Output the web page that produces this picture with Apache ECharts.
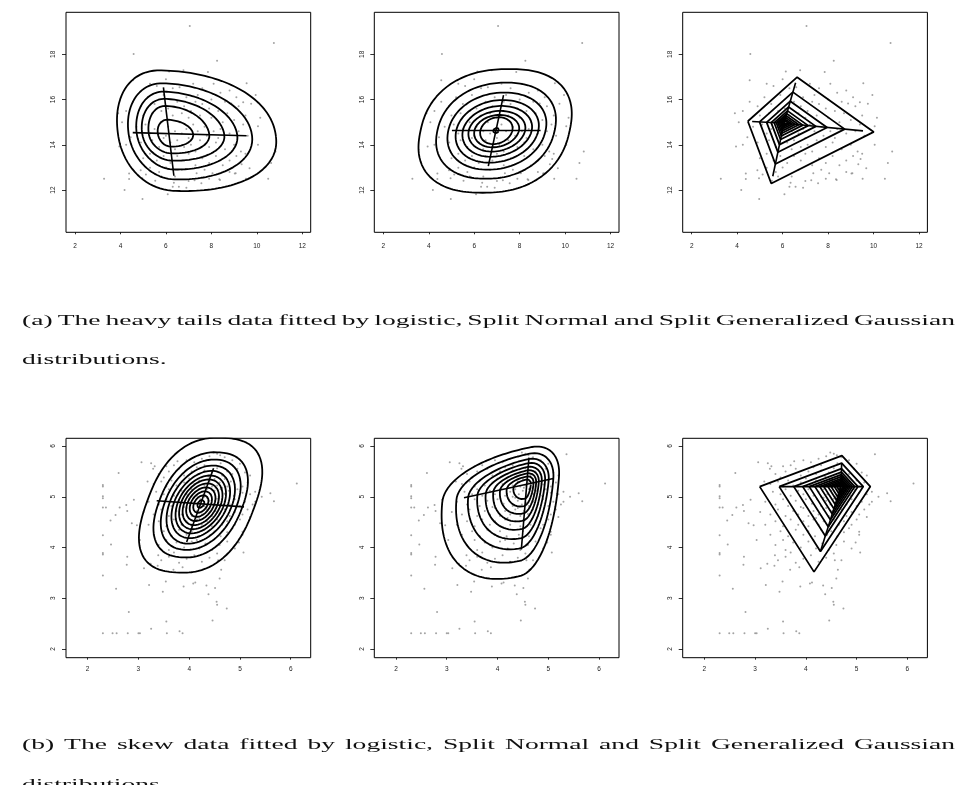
<!DOCTYPE html>
<html>
<head>
<meta charset="utf-8">
<script src="https://cdn.jsdelivr.net/npm/echarts@6/dist/echarts.min.js"></script>
<style>
  html, body { margin: 0; padding: 0; background: #fff; }
  #chart { width: 969px; height: 785px; }
</style>
</head>
<body>
<div id="chart"></div>
<script>
// 刻度
const topXTicks = [2, 4, 6, 8, 10, 12]
const topYTicks = [12, 14, 16, 18]
const botXTicks = [2, 3, 4, 5, 6]
const botYTicks = [2, 3, 4, 5, 6]

// (a) heavy tails 数据点
const heavyPoints = [
  [7.05, 19.25], [10.75, 18.5], [4.58, 18.02], [8.25, 17.72], [6.77, 17.3], [7.85, 17.22], [6.14, 17.24], [4.55, 16.85],
  [9.55, 16.72], [9.95, 16.2], [9.75, 15.82], [9.4, 15.88], [10.15, 15.2], [10.05, 14.82], [10.05, 14.0], [10.82, 13.7],
  [10.63, 13.2], [10.5, 12.5], [9.52, 12.5], [9.03, 12.73], [8.35, 12.48], [8.05, 12.74], [3.28, 12.5], [4.18, 12.0],
  [4.97, 11.6], [6.08, 11.81], [4.38, 12.73], [4.38, 12.49], [3.95, 13.93], [4.25, 14.0], [4.45, 14.33], [3.9, 15.4],
  [4.07, 15.0], [4.25, 15.5], [4.55, 15.9], [8.88, 15.83],
  [4.89, 12.87], [5.12, 12.69], [5.3, 12.99], [4.96, 12.52], [5.53, 12.41], [6.3, 12.15], [6.57, 12.15], [6.35, 12.32],
  [7.35, 12.74], [7.56, 12.3], [7.26, 12.43], [8.38, 12.44], [9.33, 13.14], [9.43, 13.37], [9.68, 12.96], [9.07, 12.74],
  [5.6, 16.6], [6.3, 16.5], [6.6, 16.55], [7.2, 16.7], [7.6, 16.5], [8.4, 16.3], [8.8, 16.4], [5.2, 16.1], [5.9, 16.2],
  [6.9, 16.1], [7.4, 16.2], [8.0, 16.0], [8.6, 15.9], [9.1, 16.1], [8.1, 16.7], [6.0, 16.9], [5.3, 16.7],
  [4.9, 15.7], [5.5, 15.8], [6.1, 15.6], [6.5, 15.9], [6.8, 15.7], [7.1, 15.5], [7.6, 15.8], [7.9, 15.6], [8.3, 15.5],
  [8.7, 15.4], [9.2, 15.7], [9.5, 15.3], [5.8, 15.5], [7.3, 15.9], [5.0, 15.3], [5.4, 15.4], [6.3, 15.3], [6.7, 15.4],
  [7.0, 15.2], [7.5, 15.3], [8.0, 15.2], [8.5, 15.0], [9.0, 15.1], [9.4, 14.9],
  [4.7, 14.8], [5.1, 14.9], [5.5, 14.7], [5.8, 15.0], [6.1, 14.8], [6.4, 14.6], [6.6, 15.0], [6.9, 14.7], [7.2, 14.9],
  [7.4, 14.6], [7.7, 14.8], [8.1, 14.6], [8.4, 14.7], [8.8, 14.5], [9.2, 14.6], [9.6, 14.4], [5.3, 14.5], [6.0, 14.4],
  [6.7, 14.5], [7.0, 14.3], [7.8, 14.4], [8.3, 14.3],
  [4.9, 14.1], [5.4, 14.2], [5.7, 13.9], [6.2, 14.1], [6.5, 14.2], [6.8, 13.9], [7.1, 14.0], [7.5, 14.2], [7.9, 13.9],
  [8.2, 14.1], [8.6, 13.8], [9.0, 14.0], [9.3, 13.7], [5.9, 14.3], [6.4, 13.8], [7.3, 13.7],
  [5.0, 13.4], [5.3, 13.6], [5.6, 13.3], [5.9, 13.5], [6.2, 13.2], [6.5, 13.5], [6.8, 13.3], [7.0, 13.6], [7.3, 13.1],
  [7.6, 13.4], [7.9, 13.2], [8.2, 13.5], [8.5, 13.1], [8.8, 13.3], [9.1, 13.5], [9.5, 13.6], [6.0, 13.0], [6.7, 12.9],
  [7.7, 12.9], [8.8, 12.8], [5.7, 12.8], [6.4, 12.6], [7.0, 12.4], [6.9, 12.1], [5.8, 12.6], [7.9, 12.5]
]

// (b) skew 数据点
const skewPoints = [
  [2.3, 5.23], [2.3, 5.2], [2.3, 5.01], [2.3, 4.97], [2.3, 4.79], [2.3, 4.24], [2.3, 3.89], [2.3, 3.86], [2.3, 3.45],
  [2.3, 2.31], [2.36, 4.79], [2.45, 4.53], [2.55, 4.64], [2.61, 5.47], [2.63, 4.79], [2.46, 4.06], [2.56, 3.19],
  [2.49, 2.31], [2.57, 2.31], [2.79, 2.31], [3.0, 2.31], [3.03, 2.31], [3.56, 2.31], [3.81, 2.35], [3.87, 2.31],
  [2.81, 2.73], [2.78, 3.82], [2.77, 3.66], [2.76, 4.84], [2.78, 4.72], [2.87, 4.48], [2.91, 4.94], [3.06, 5.68],
  [3.25, 5.66], [3.32, 5.6], [3.29, 5.55], [3.18, 5.3], [3.21, 3.26], [3.25, 2.4], [3.54, 3.33], [3.55, 2.54],
  [3.48, 3.13], [3.11, 3.59], [3.24, 3.68], [2.97, 4.44], [3.03, 4.15], [3.39, 3.85], [3.38, 3.64], [3.69, 3.56],
  [3.87, 3.61], [3.89, 3.23], [4.08, 3.29], [4.12, 3.31], [4.34, 3.25], [4.38, 3.08], [4.51, 3.2], [4.54, 2.93],
  [4.55, 2.87], [4.74, 2.8], [4.46, 2.56], [4.6, 3.39], [4.63, 3.56], [4.57, 3.75], [5.07, 3.9], [5.36, 5.84],
  [5.43, 5.0], [5.6, 5.07], [5.67, 4.91], [6.12, 5.26], [4.61, 5.82], [4.48, 5.87], [3.77, 5.7], [5.05, 4.31],
  [4.98, 4.1], [5.2, 4.6], [5.3, 4.9],
  [3.95, 5.72], [4.1, 5.68], [4.25, 5.75], [4.4, 5.8], [4.55, 5.85], [4.7, 5.78], [4.85, 5.72], [5.0, 5.65], [4.3, 5.62],
  [4.62, 5.66], [3.7, 5.62], [3.55, 5.6],
  [3.4, 5.45], [3.6, 5.5], [3.8, 5.55], [3.9, 5.42], [4.05, 5.5], [4.2, 5.45], [4.3, 5.52], [4.45, 5.48], [4.55, 5.56],
  [4.65, 5.42], [4.75, 5.5], [4.85, 5.45], [4.95, 5.55], [5.1, 5.48], [5.2, 5.42], [4.38, 5.4], [4.15, 5.58], [3.5, 5.38],
  [3.3, 5.25], [3.45, 5.3], [3.65, 5.32], [3.75, 5.22], [3.9, 5.28], [4.0, 5.36], [4.1, 5.25], [4.2, 5.32], [4.3, 5.22],
  [4.4, 5.3], [4.5, 5.35], [4.55, 5.22], [4.6, 5.28], [4.7, 5.35], [4.75, 5.2], [4.82, 5.3], [4.9, 5.24], [5.0, 5.32],
  [5.05, 5.2], [5.15, 5.28], [4.45, 5.2], [4.65, 5.18], [3.55, 5.2],
  [3.35, 5.1], [3.5, 5.05], [3.6, 5.15], [3.7, 5.02], [3.85, 5.12], [3.95, 5.05], [4.05, 5.15], [4.15, 5.02], [4.25, 5.1],
  [4.35, 5.15], [4.42, 5.05], [4.5, 5.12], [4.58, 5.0], [4.62, 5.15], [4.7, 5.06], [4.78, 5.12], [4.88, 5.02], [4.95, 5.15],
  [5.05, 5.08], [5.2, 5.05], [5.3, 5.1], [4.52, 5.18], [4.3, 5.0],
  [3.2, 4.9], [3.4, 4.85], [3.55, 4.95], [3.65, 4.82], [3.8, 4.92], [3.9, 4.8], [4.0, 4.95], [4.12, 4.86], [4.22, 4.95],
  [4.3, 4.82], [4.4, 4.92], [4.48, 4.85], [4.55, 4.96], [4.62, 4.82], [4.7, 4.9], [4.8, 4.85], [4.9, 4.95], [5.0, 4.82],
  [5.1, 4.9], [5.25, 4.85], [4.35, 4.98], [4.58, 4.88],
  [3.1, 4.7], [3.3, 4.65], [3.45, 4.75], [3.6, 4.62], [3.75, 4.72], [3.85, 4.65], [3.95, 4.78], [4.05, 4.62], [4.15, 4.72],
  [4.25, 4.65], [4.35, 4.75], [4.45, 4.62], [4.52, 4.72], [4.6, 4.66], [4.7, 4.75], [4.8, 4.62], [4.9, 4.7], [5.05, 4.65],
  [5.15, 4.75], [4.4, 4.78],
  [3.2, 4.45], [3.4, 4.52], [3.55, 4.42], [3.7, 4.55], [3.85, 4.45], [3.95, 4.52], [4.05, 4.42], [4.15, 4.55], [4.25, 4.45],
  [4.35, 4.52], [4.45, 4.42], [4.55, 4.55], [4.65, 4.45], [4.75, 4.52], [4.9, 4.45], [5.0, 4.55], [4.2, 4.58],
  [3.3, 4.25], [3.5, 4.32], [3.65, 4.22], [3.8, 4.35], [3.95, 4.25], [4.05, 4.32], [4.18, 4.22], [4.3, 4.35], [4.42, 4.25],
  [4.5, 4.32], [4.62, 4.22], [4.75, 4.3], [4.85, 4.38], [5.05, 4.25],
  [3.4, 4.05], [3.6, 3.95], [3.75, 4.1], [3.9, 4.0], [4.05, 4.12], [4.2, 3.98], [4.32, 4.08], [4.45, 3.95], [4.6, 4.05],
  [4.75, 4.12], [4.9, 3.98], [3.55, 4.15], [4.15, 4.15],
  [3.45, 3.75], [3.6, 3.82], [3.8, 3.7], [3.95, 3.78], [4.1, 3.85], [4.25, 3.72], [4.4, 3.8], [4.55, 3.88], [4.7, 3.75],
  [3.7, 3.9]
]

// 等高线：中心、剪切 [k1, k2]、每层 [左, 右, 上, 下, 指数]
const logisticTopCenter = [6.13, 14.5]
const logisticTopShear = [-0.028, -0.118]
const logisticTopLevels = [
  [2.25, 4.71, 2.79, 2.54, 2.15], [1.78, 3.66, 2.22, 2.03, 2.05], [1.42, 3.01, 1.85, 1.59, 2],
  [1.18, 2.44, 1.53, 1.2, 2], [0.89, 1.78, 1.22, 0.88, 2], [0.49, 1.07, 0.61, 0.58, 2]
]
const logisticTopAxes = [[[4.54, 14.54], [9.55, 14.4]], [[5.89, 16.54], [6.35, 12.63]]]

const snTopCenter = [6.96, 14.63]
const snTopShear = [0, 0.213]
const snTopLevels = [
  [3.32, 3.24, 2.72, 2.75, 2.35], [2.58, 2.58, 2.12, 2.13, 2.2], [2.1, 2.18, 1.68, 1.73, 2.1],
  [1.75, 1.86, 1.35, 1.42, 2.05], [1.46, 1.57, 1.09, 1.16, 2], [1.2, 1.28, 0.87, 0.93, 2],
  [0.95, 1.01, 0.69, 0.74, 2], [0.69, 0.72, 0.59, 0.6, 2], [0.12, 0.12, 0.12, 0.12, 2]
]
const snTopAxes = [[[5.02, 14.63], [8.92, 14.63]], [[6.62, 13.06], [7.29, 16.2]]]

// 多边形：中心、外层顶点偏移（左、上、右、下）、各层比例
const sggTopCenter = [6.06, 14.95]
const sggTopOuter = [[-1.59, 0.09], [0.58, 2.04], [3.95, -0.38], [-0.56, -2.66]]
const sggTopScales = [1, 0.676, 0.48, 0.355, 0.27, 0.21, 0.165, 0.125, 0.09, 0.06, 0.035]
const sggTopRay = 0.88

const logisticBotCenter = [4.23, 4.86]
const logisticBotShear = [-0.07, 0.366]
const logisticBotBase = [1.05, 1.05, 1.3, 1.35]
const logisticBotScales = [1, 0.78, 0.67, 0.58, 0.5, 0.43, 0.37, 0.31, 0.25, 0.19, 0.13, 0.06]
const logisticBotPowers = [2.5, 2.3, 2.15, 2.05, 2, 2, 2, 2, 2, 2, 2, 2]
const logisticBotAxes = [[[3.36, 4.92], [5.08, 4.8]], [[3.95, 4.11], [4.48, 5.56]]]

const snBotCenter = [4.56, 5.23]
const snBotShear = [0.216, 0.083]
const snBotBase = [1.65, 0.65, 0.74, 1.8]
const snBotScales = [1, 0.83, 0.69, 0.58, 0.48, 0.39, 0.31, 0.23, 0.15]
const snBotPowers = [2.2, 2.1, 2, 2, 2, 2, 2, 2, 2]
const snBotAxes = [[[3.34, 4.98], [5.1, 5.36]], [[4.47, 3.96], [4.62, 5.77]]]

const sggBotCenter = [4.69, 5.2]
const sggBotOuter = [[-1.6, 0], [0.02, 0.61], [0.58, 0], [-0.53, -1.68]]
const sggBotScales = [1, 0.76, 0.58, 0.47, 0.39, 0.32, 0.26, 0.21, 0.16, 0.12, 0.08, 0.05]
const sggBotRay = 0.75

// 图注
const capA1 = '(a) The heavy tails data fitted by logistic, Split Normal and Split Generalized Gaussian'
const capA2 = 'distributions.'
const capB1 = '(b) The skew data fitted by logistic, Split Normal and Split Generalized Gaussian'
const capB2 = 'distributions.'

// ---- 布局 ----
const gridLefts = [66, 374.3, 682.7]
const gridWidth = 244.7
const rows = [
  { top: 12.3, height: 220, x: [1.604, 12.37], y: [10.13, 19.86], xt: topXTicks, yt: topYTicks, pts: heavyPoints, lm: 10 },
  { top: 438.3, height: 219.4, x: [1.573, 6.394], y: [1.829, 6.152], xt: botXTicks, yt: botYTicks, pts: skewPoints, lm: 8 }
]

function contourPath(center, shear, r, p) {
  const pts = []
  const n = 180
  for (let i = 0; i <= n; i++) {
    const t = (2 * Math.PI * i) / n
    const c = Math.cos(t)
    const s = Math.sin(t)
    const u = (c >= 0 ? r[1] : r[0]) * Math.sign(c) * Math.pow(Math.abs(c), 2 / p)
    const v = (s >= 0 ? r[2] : r[3]) * Math.sign(s) * Math.pow(Math.abs(s), 2 / p)
    pts.push([center[0] + u + shear[1] * v, center[1] + v + shear[0] * u])
  }
  return pts
}

function polygonPath(center, outer, k) {
  const pts = outer.map(d => [center[0] + k * d[0], center[1] + k * d[1]])
  pts.push(pts[0])
  return pts
}

function lineSeries(idx, data, width) {
  return {
    type: 'line', xAxisIndex: idx, yAxisIndex: idx, data,
    symbol: 'none', showSymbol: false, silent: true, z: 3,
    lineStyle: { color: '#000', width }
  }
}

const grids = []
const xAxes = []
const yAxes = []
const series = []
const labelFont = 'Liberation Sans'

rows.forEach((row, r) => {
  gridLefts.forEach((left, c) => {
    const idx = r * 3 + c
    grids.push({ left, top: row.top, width: gridWidth, height: row.height, show: true, borderColor: '#000', borderWidth: 1 })
    xAxes.push({
      type: 'value', gridIndex: idx, min: row.x[0], max: row.x[1],
      axisLine: { show: false }, splitLine: { show: false },
      axisTick: { show: true, length: 2, customValues: row.xt, lineStyle: { color: '#000', width: 0.8 } },
      axisLabel: { customValues: row.xt, fontSize: 6.5, margin: row.lm, color: '#222', fontFamily: labelFont }
    })
    yAxes.push({
      type: 'value', gridIndex: idx, min: row.y[0], max: row.y[1],
      axisLine: { show: false }, splitLine: { show: false },
      axisTick: { show: true, length: 4, customValues: row.yt, lineStyle: { color: '#000', width: 0.8 } },
      axisLabel: { customValues: row.yt, fontSize: 6.5, margin: 9, rotate: 90, color: '#222', fontFamily: labelFont }
    })
    series.push({
      type: 'scatter', xAxisIndex: idx, yAxisIndex: idx, data: row.pts,
      symbolSize: 2, silent: true, z: 2, itemStyle: { color: '#8c8c8c' }
    })
  })
})

// 第一行
logisticTopLevels.forEach(l => series.push(lineSeries(0, contourPath(logisticTopCenter, logisticTopShear, l, l[4]), 1.8)))
logisticTopAxes.forEach(a => series.push(lineSeries(0, a, 1.6)))
snTopLevels.forEach(l => series.push(lineSeries(1, contourPath(snTopCenter, snTopShear, l, l[4]), 1.8)))
snTopAxes.forEach(a => series.push(lineSeries(1, a, 1.6)))
sggTopScales.forEach(k => series.push(lineSeries(2, polygonPath(sggTopCenter, sggTopOuter, k), 1.8)))
sggTopOuter.forEach(d => series.push(lineSeries(2, [sggTopCenter, [sggTopCenter[0] + sggTopRay * d[0], sggTopCenter[1] + sggTopRay * d[1]]], 1.6)))

// 第二行
logisticBotScales.forEach((k, i) => series.push(lineSeries(3, contourPath(logisticBotCenter, logisticBotShear, logisticBotBase.map(v => v * k), logisticBotPowers[i]), 1.8)))
logisticBotAxes.forEach(a => series.push(lineSeries(3, a, 1.6)))
snBotScales.forEach((k, i) => series.push(lineSeries(4, contourPath(snBotCenter, snBotShear, snBotBase.map(v => v * k), snBotPowers[i]), 1.8)))
snBotAxes.forEach(a => series.push(lineSeries(4, a, 1.6)))
sggBotScales.forEach(k => series.push(lineSeries(5, polygonPath(sggBotCenter, sggBotOuter, k), 1.8)))
sggBotOuter.forEach(d => series.push(lineSeries(5, [sggBotCenter, [sggBotCenter[0] + sggBotRay * d[0], sggBotCenter[1] + sggBotRay * d[1]]], 1.6)))

// ---- 图注：逐词两端对齐 ----
const captionFont = '15.5px "Liberation Serif"'
const ctx = document.createElement('canvas').getContext('2d')
ctx.font = captionFont
const glyphScale = 144.7 / ctx.measureText('distributions.').width
const textLeft = 22
const textRight = 955

function captionLine(text, baseline, justify) {
  const words = text.split(' ')
  const widths = words.map(w => ctx.measureText(w).width * glyphScale)
  const total = widths.reduce((a, b) => a + b, 0)
  const gap = justify ? (textRight - textLeft - total) / (words.length - 1) : ctx.measureText(' ').width * glyphScale
  let x = textLeft
  return words.map((w, i) => {
    const el = {
      type: 'text', x, y: baseline - 2, scaleX: glyphScale, silent: true,
      style: { text: w, font: captionFont, fill: '#111', align: 'left', verticalAlign: 'middle', textAlign: 'left', textVerticalAlign: 'middle' }
    }
    x += widths[i] + gap
    return el
  })
}

const graphics = [].concat(
  captionLine(capA1, 322.7, true),
  captionLine(capA2, 362.3, false),
  captionLine(capB1, 747.3, true),
  captionLine(capB2, 787, false)
)

const chart = echarts.init(document.getElementById('chart'), null, { renderer: 'canvas' })
chart.setOption({
  animation: false,
  backgroundColor: '#fff',
  grid: grids,
  xAxis: xAxes,
  yAxis: yAxes,
  series,
  graphic: { elements: graphics }
})
</script>
</body>
</html>
